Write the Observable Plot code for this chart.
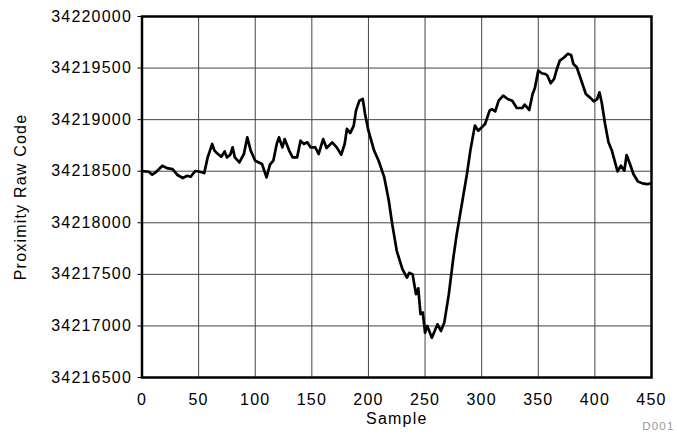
<!DOCTYPE html>
<html>
<head>
<meta charset="utf-8">
<script src="https://cdn.jsdelivr.net/npm/d3@7"></script>
<script src="https://cdn.jsdelivr.net/npm/@observablehq/plot@0.6"></script>
<style>
  html, body { margin: 0; padding: 0; background: #fff; }
  #chart svg { display: block; }
</style>
</head>
<body>
<div id="chart"></div>
<script>
const sample = [0,6,9,12,18,22,27,31,36,40,43,47,51,55,58,62,64,67,70,73,75,78,80,82,86,90,93,96,100,106,110,113,116,119,121,124,126,130,133,137,140,143,146,149,153,156,160,163,168,172,176,179,181,184,187,189,192,195,197,200,205,209,214,218,221,225,230,234,236,239,242,244,246,248,250,252,256,261,264,267,271,275,278,283,287,290,294,297,303,307,309,312,315,319,323,327,331,336,338,342,345,347,350,353,356,358,361,364,366,369,373,376,379,381,384,387,392,396,399,402,404,406,409,412,415,420,423,426,428,431,434,438,442,446,449];
const rawCode = [34218500,34218495,34218466,34218488,34218553,34218530,34218520,34218466,34218434,34218456,34218446,34218502,34218495,34218482,34218634,34218764,34218700,34218667,34218641,34218692,34218634,34218660,34218731,34218634,34218585,34218667,34218828,34218700,34218602,34218570,34218440,34218563,34218602,34218764,34218828,34218731,34218812,34218700,34218634,34218634,34218796,34218764,34218780,34218731,34218731,34218667,34218812,34218725,34218780,34218731,34218660,34218764,34218910,34218870,34218942,34219087,34219184,34219200,34219055,34218893,34218700,34218602,34218440,34218214,34217987,34217728,34217550,34217469,34217515,34217500,34217308,34217365,34217114,34217130,34216935,34217000,34216886,34217016,34216951,34217032,34217308,34217663,34217890,34218214,34218473,34218700,34218942,34218893,34218958,34219087,34219103,34219080,34219184,34219233,34219200,34219184,34219113,34219113,34219146,34219094,34219249,34219307,34219476,34219450,34219443,34219428,34219353,34219395,34219476,34219573,34219605,34219638,34219627,34219540,34219508,34219411,34219249,34219211,34219178,34219200,34219265,34219168,34218958,34218780,34218700,34218498,34218553,34218505,34218657,34218570,34218473,34218401,34218382,34218375,34218380];
const xTicks = [0,50,100,150,200,250,300,350,400,450];
const yTicks = [34216500,34217000,34217500,34218000,34218500,34219000,34219500,34220000];
const xTitle = "Sample";
const yTitle = "Proximity Raw Code";
const figId = "D001";

const data = sample.map((s, i) => ({sample: s, code: rawCode[i]}));

const chart = Plot.plot({
  width: 677,
  height: 440,
  marginLeft: 141.5,
  marginRight: 26,
  marginTop: 16,
  marginBottom: 63,
  style: {fontFamily: "Liberation Sans, Arial, sans-serif", fontSize: "16px", color: "#000", background: "#fff", letterSpacing: "1.2px"},
  x: {domain: [0, 450], ticks: xTicks, tickFormat: d => String(d), label: null},
  y: {domain: [34216500, 34220000], ticks: yTicks, tickFormat: d => String(d), label: null},
  marks: [
    Plot.gridX(xTicks, {stroke: "#444", strokeOpacity: 1, strokeWidth: 1}),
    Plot.gridY(yTicks, {stroke: "#444", strokeOpacity: 1, strokeWidth: 1}),
    Plot.axisX(xTicks, {tickSize: 0, tickPadding: 16, tickFormat: d => String(d), label: null, fontSize: 16}),
    Plot.axisY(yTicks, {tickSize: 4, tickPadding: 6, tickFormat: d => String(d), label: null, fontSize: 16}),
    Plot.line(data, {x: "sample", y: "code", stroke: "#000", strokeWidth: 2.7, strokeLinejoin: "round", curve: "linear"}),
    Plot.frame({stroke: "#000", strokeWidth: 2.5}),
    Plot.text([xTitle], {frameAnchor: "bottom", dy: 46, text: d => d, textAnchor: "middle", fontSize: 16, fill: "#000"}),
    Plot.text([yTitle], {frameAnchor: "left", dx: -121, rotate: -90, text: d => d, textAnchor: "middle", fontSize: 16, fill: "#000"}),
    Plot.text([figId], {frameAnchor: "bottom-right", dx: 23, dy: 52, textAnchor: "end", text: d => d, fontSize: 11.5, fill: "#999", style: "letter-spacing:0.5px"})
  ]
});
document.getElementById("chart").appendChild(chart);
</script>
</body>
</html>
